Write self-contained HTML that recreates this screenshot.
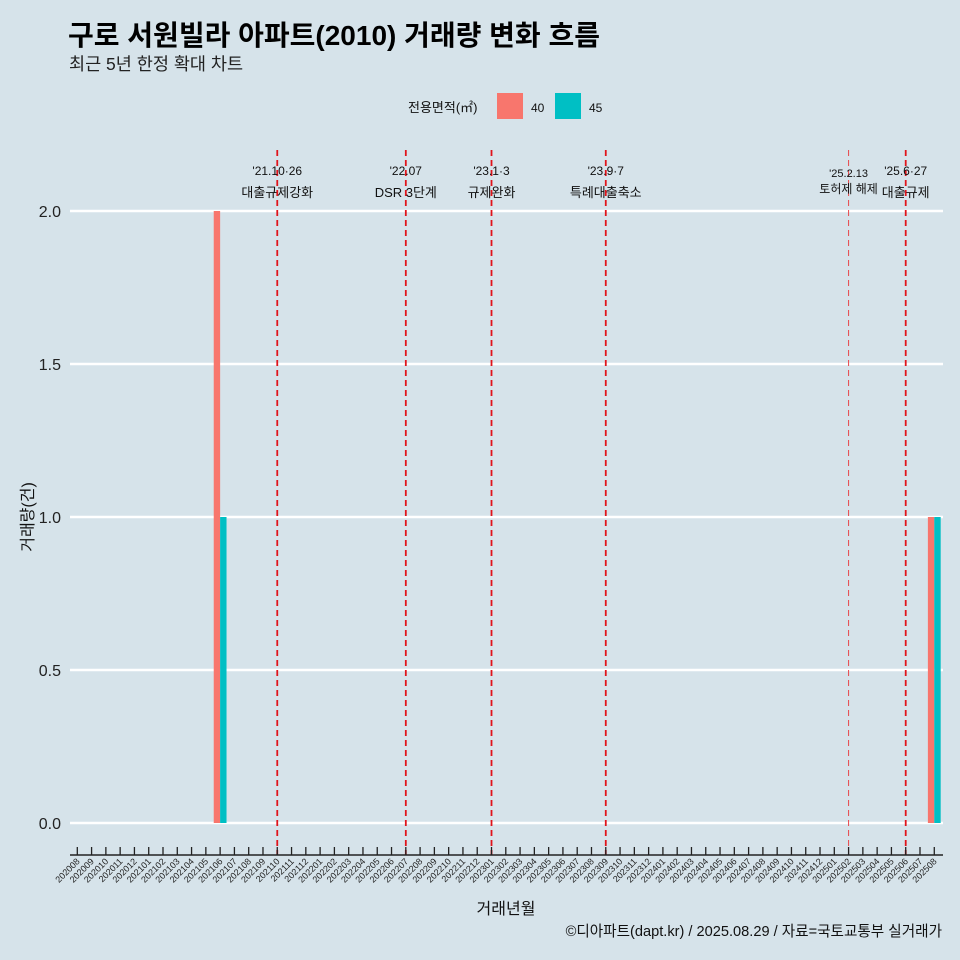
<!DOCTYPE html>
<html><head><meta charset="utf-8"><style>
html,body{margin:0;padding:0;background:#d6e3ea;}
svg{display:block;font-family:"Liberation Sans","Noto Sans CJK KR",sans-serif;}
</style></head><body>
<svg id="c" width="960" height="960" viewBox="0 0 960 960">
<rect width="960" height="960" fill="#d6e3ea"/>
<text x="68" y="45" font-size="28" font-weight="bold" fill="#000">구로 서원빌라 아파트(2010) 거래량 변화 흐름</text>
<text x="69" y="70" font-size="17.5" fill="#222">최근 5년 한정 확대 차트</text>
<g>
<text x="408" y="112" font-size="13" fill="#111">전용면적(㎡)</text>
<rect x="497" y="93" width="26" height="26" fill="#f8766d"/>
<text x="531" y="112" font-size="12" fill="#111">40</text>
<rect x="555" y="93" width="26" height="26" fill="#00bfc4"/>
<text x="589" y="112" font-size="12" fill="#111">45</text>
</g>
<g id="grid"></g><g id="bars"></g><g id="events"></g><g id="xaxis"></g>
<text x="0" y="0" transform="translate(33,517) rotate(-90)" text-anchor="middle" font-size="16" fill="#111">거래량(건)</text>
<text x="506" y="914" text-anchor="middle" font-size="16" fill="#111">거래년월</text>
<text x="942" y="936" text-anchor="end" font-size="14.6" fill="#111">©디아파트(dapt.kr) / 2025.08.29 / 자료=국토교통부 실거래가</text>
</svg>
<script>
const months=[];for(let y=2020;y<=2025;y++)for(let m=1;m<=12;m++){const k=y*100+m;if(k>=202008&&k<=202508)months.push(String(k));}
const barMonths=["202106","202508"];
const series40=[2,1];
const series45=[1,1];
const yTicks=[0,0.5,1,1.5,2];
const yTickLabels=["0.0","0.5","1.0","1.5","2.0"];
const eventMonths=["202110","202207","202301","202309","202502","202506"];
const eventDates=["'21.10·26","'22.07","'23.1·3","'23.9·7","'25.2.13","'25.6·27"];
const eventLabels=["대출규제강화","DSR 3단계","규제완화","특례대출축소","토허제 해제","대출규제"];
const NS="http://www.w3.org/2000/svg";
function mk(t,a,p){const e=document.createElementNS(NS,t);for(const k in a)e.setAttribute(k,a[k]);p.appendChild(e);return e;}
const x=i=>77.3+i*14.283, y=v=>823-v*306;
const grid=document.getElementById('grid');
yTicks.forEach((v,i)=>{
 const l=mk('line',{x1:70,x2:943,y1:y(v),y2:y(v),stroke:'#fff','stroke-width':2.4},grid);
 
 
 const t=mk('text',{x:61,y:y(v)+6,'text-anchor':'end','font-size':16,fill:'#222'},grid);t.textContent=yTickLabels[i];
 
 
});
const bars=document.getElementById('bars');const bw=6.4;
barMonths.forEach((m,j)=>{const cx=x(months.indexOf(m));
 const a=mk('rect',{x:cx-bw,y:y(series40[j]),width:bw,height:y(0)-y(series40[j]),fill:'#f8766d'},bars);
 
 
 const b=mk('rect',{x:cx,y:y(series45[j]),width:bw,height:y(0)-y(series45[j]),fill:'#00bfc4'},bars);
 
 
});
const ev=document.getElementById('events');
eventMonths.forEach((m,i)=>{const cx=x(months.indexOf(m));const thin=m==="202502";
 const l=mk('line',{x1:cx,x2:cx,y1:150,y2:855,stroke:thin?'#e8474a':'#e0141b','stroke-width':thin?1:1.8,'stroke-dasharray':'6,4'},ev);
 
 
 const fs=thin?11:12;
 const d=mk('text',{x:cx,y:thin?177:175,'text-anchor':'middle','font-size':fs,fill:'#111'},ev);d.textContent=eventDates[i];
 
 
 const t=mk('text',{x:cx,y:thin?193:197,'text-anchor':'middle','font-size':fs+1,fill:'#111'},ev);t.textContent=eventLabels[i];
 
 
});
const xa=document.getElementById('xaxis');
const al=mk('line',{x1:70,x2:943,y1:855,y2:855,stroke:'#222','stroke-width':1.5},xa);


months.forEach((m,i)=>{const cx=x(i);
 const tk=mk('line',{x1:cx,x2:cx,y1:847,y2:855,stroke:'#222','stroke-width':1.3},xa);
 
 
 const t=mk('text',{x:0,y:0,'text-anchor':'end','font-size':9,fill:'#222',transform:`translate(${cx+3},${862}) rotate(-45)`},xa);t.textContent=m;
 
 
});
</script>
</body></html>
